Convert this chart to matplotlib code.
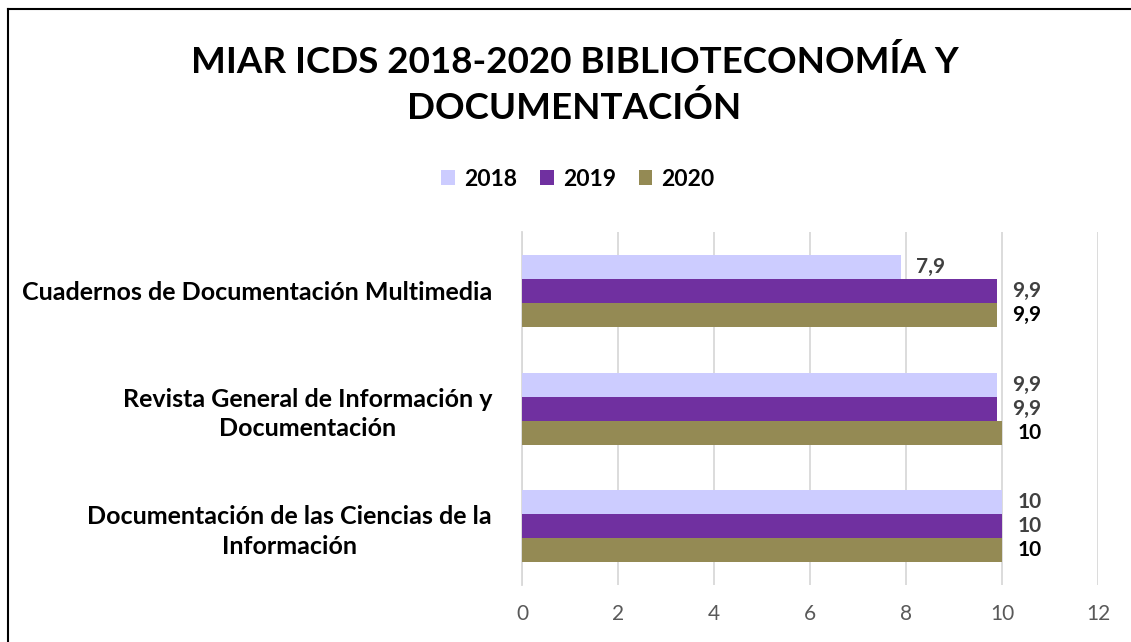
import matplotlib.pyplot as plt
import matplotlib.lines as mlines
import numpy as np

# Data
categories = ['Documentación de las Ciencias de la\nInformación',
              'Revista General de Información y\nDocumentación',
              'Cuadernos de Documentación Multimedia']
years = ['2018', '2019', '2020']
vals_2018 = [10, 9.9, 7.9]
vals_2019 = [10, 9.9, 9.9]
vals_2020 = [10, 10, 9.9]

colors = ['#CCCCFF', '#7030A0', '#948A54']
label_colors = ['#404040', '#404040', '#000000']

plt.rcParams['font.family'] = ['Lato', 'DejaVu Sans']

fig = plt.figure(figsize=(11.31, 6.42), dpi=100)
ax = fig.add_axes([0.4615, 0.0888, 0.5093, 0.5498])

y = np.arange(len(categories))
h = 0.204
series = [vals_2018, vals_2019, vals_2020]
offsets = [h, 0, -h]

for vals, off, col, lcol, yr in zip(series, offsets, colors, label_colors, years):
    bars = ax.barh(y + off, vals, height=h, color=col, label=yr, zorder=3)
    for b, v in zip(bars, vals):
        txt = f'{v:g}'.replace('.', ',')
        ax.annotate(txt, (b.get_width(), b.get_y() + b.get_height() / 2),
                    xytext=(11, 0), textcoords='offset points',
                    ha='left', va='center', fontsize=15, fontweight='bold',
                    color=lcol)

ax.set_xlim(0, 12)
ax.set_ylim(-0.5, 2.5)
ax.set_xticks(range(0, 13, 2))
ax.set_yticks(y)
ax.set_yticklabels(categories, fontsize=18, fontweight='bold',
                   multialignment='center', linespacing=1.35)
ax.tick_params(axis='y', length=0, pad=21.5)
ax.tick_params(axis='x', length=0, pad=14, labelsize=15, labelcolor='#595959')
ax.grid(axis='x', color='#D9D9D9', linewidth=1.3, zorder=0)
for s in ['top', 'right', 'bottom']:
    ax.spines[s].set_visible(False)
ax.spines['left'].set_color('#D9D9D9')
ax.spines['left'].set_linewidth(1.3)

fig.text(0.508, 0.903, 'MIAR ICDS 2018-2020 BIBLIOTECONOMÍA Y', ha='center',
         va='center', fontsize=26.5, fontweight='bold')
fig.text(0.508, 0.832, 'DOCUMENTACIÓN', ha='center', va='center',
         fontsize=26.5, fontweight='bold')

fig.legend(loc='center', bbox_to_anchor=(0.511, 0.721), ncol=3, frameon=False,
           prop={'size': 16.5, 'weight': 'bold'}, handlelength=0.6,
           handleheight=0.6, handletextpad=0.4, columnspacing=1.0)

# outer border (left and top only, as in the reference)
fig.add_artist(mlines.Line2D([0.0075, 0.0075], [0, 0.986], color='black', lw=1.5,
                             transform=fig.transFigure))
fig.add_artist(mlines.Line2D([0.0075, 1.0], [0.986, 0.986], color='black', lw=1.5,
                             transform=fig.transFigure))

fig.savefig('out.png', dpi=100)
